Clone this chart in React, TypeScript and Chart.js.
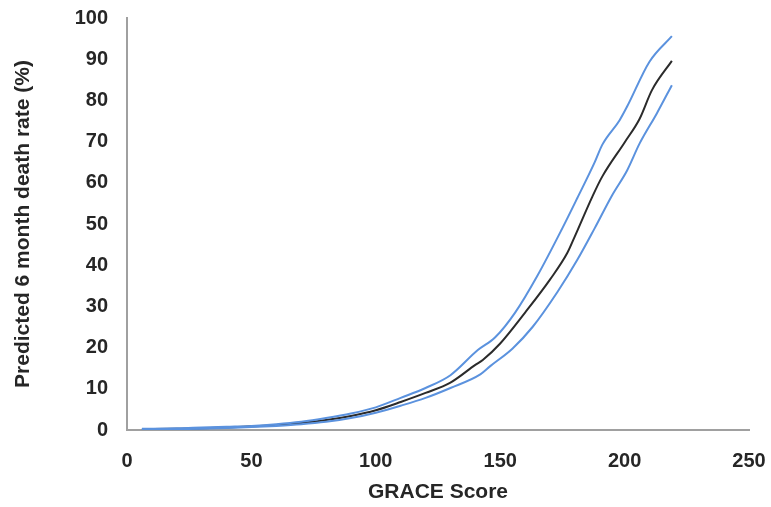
import React, { useEffect, useRef } from "react";
import { Chart, registerables } from "chart.js";

Chart.register(...registerables);

const upperScores = [6, 20, 30, 40, 50, 60, 70, 80, 90, 100, 110, 120, 130, 141, 148, 156, 165, 175, 181, 188, 191, 198, 201, 210, 219];
const upperRates = [0.3, 0.4, 0.6, 0.8, 1.0, 1.4, 2.0, 2.9, 4.0, 5.5, 7.8, 10.2, 13.3, 19.4, 22.5, 28.5, 37.5, 49.0, 56.3, 65.0, 69.2, 75.2, 78.5, 89.4, 95.6];

const lowerScores = [6, 20, 30, 40, 50, 60, 70, 80, 90, 100, 110, 120, 130, 142, 146, 155, 163, 173, 181, 188, 195, 201, 206, 213, 219];
const lowerRates = [0.1, 0.2, 0.3, 0.5, 0.7, 1.0, 1.4, 2.0, 2.9, 4.2, 5.9, 7.8, 10.2, 13.5, 15.5, 19.8, 25.0, 33.5, 41.3, 49.0, 57.0, 63.0, 69.5, 76.9, 83.7];

const midScores = [6, 20, 30, 40, 50, 60, 70, 80, 90, 100, 110, 120, 130, 140, 143, 150, 160, 170, 177, 180, 187, 191, 200, 206, 211, 219];
const midRates = [0.2, 0.3, 0.4, 0.6, 0.9, 1.2, 1.7, 2.4, 3.4, 4.8, 6.8, 9.0, 11.5, 15.8, 17.0, 21.0, 28.5, 36.5, 43.0, 47.0, 56.6, 61.5, 69.8, 75.5, 82.5, 89.6];

const xTicks = [0, 50, 100, 150, 200, 250];
const yTicks = [0, 10, 20, 30, 40, 50, 60, 70, 80, 90, 100];

const toPoints = (xs: number[], ys: number[]) => xs.map((x, i) => ({ x, y: ys[i] }));

export default function App() {
  const ref = useRef<HTMLCanvasElement>(null);
  useEffect(() => {
    document.body.style.margin = "0";
    const ctx = ref.current!;
    const font = { family: "'Liberation Sans', Arial, sans-serif", weight: "bold" as const };
    const lineStyle = {
      showLine: true,
      borderWidth: 2,
      pointRadius: 0,
      cubicInterpolationMode: "monotone" as const,
    };
    const chart = new Chart(ctx, {
      type: "scatter",
      data: {
        datasets: [
          { label: "Upper", data: toPoints(upperScores, upperRates), borderColor: "#5b92de", ...lineStyle },
          { label: "Lower", data: toPoints(lowerScores, lowerRates), borderColor: "#5b92de", ...lineStyle },
          { label: "Predicted", data: toPoints(midScores, midRates), borderColor: "#2b2b2b", ...lineStyle },
        ],
      },
      options: {
        responsive: false,
        animation: false,
        layout: { padding: { left: 0, top: 18, right: 22, bottom: 0 } },
        plugins: { legend: { display: false }, tooltip: { enabled: false } },
        scales: {
          x: {
            type: "linear",
            min: 0,
            max: 250,
            afterBuildTicks: (s: any) => {
              s.ticks = xTicks.map((v) => ({ value: v }));
            },
            afterFit: (s: any) => {
              s.height = 77;
              s.paddingLeft = 0;
              s.paddingRight = 0;
            },
            grid: { display: false, drawTicks: false },
            border: { display: true, color: "#a0a0a0", width: 2 },
            ticks: { color: "#262626", font: { ...font, size: 20 }, padding: 19, maxRotation: 0 },
            title: {
              display: true,
              text: "GRACE Score",
              color: "#262626",
              font: { ...font, size: 21 },
              padding: { top: 0, bottom: 2 },
            },
          },
          y: {
            type: "linear",
            min: 0,
            max: 100,
            afterBuildTicks: (s: any) => {
              s.ticks = yTicks.map((v) => ({ value: v }));
            },
            afterFit: (s: any) => {
              s.width = 127;
              s.paddingTop = 0;
              s.paddingBottom = 0;
            },
            grid: { display: false, drawTicks: false },
            border: { display: true, color: "#a0a0a0", width: 2 },
            ticks: { color: "#262626", font: { ...font, size: 20 }, padding: 19 },
            title: {
              display: true,
              text: "Predicted 6 month death rate (%)",
              color: "#262626",
              font: { ...font, size: 21 },
              padding: { top: 11, bottom: 0 },
            },
          },
        },
      },
    });
    return () => chart.destroy();
  }, []);
  return <canvas ref={ref} width={771} height={507} style={{ display: "block" }} />;
}
